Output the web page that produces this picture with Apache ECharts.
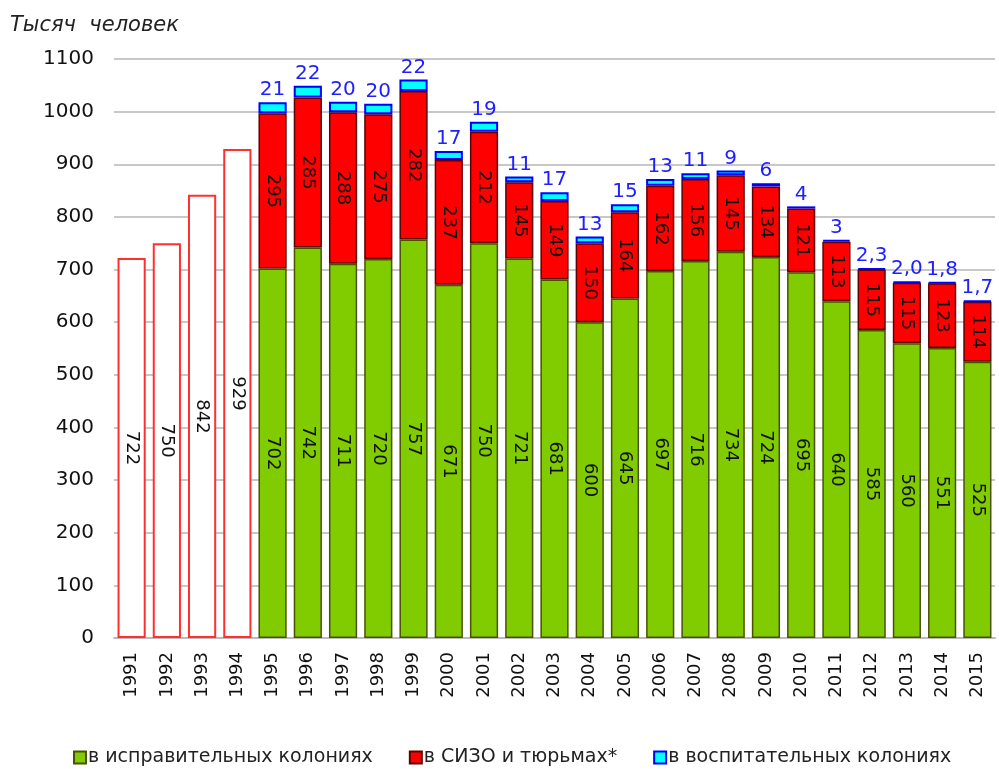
<!DOCTYPE html>
<html>
<head>
<meta charset="utf-8">
<script src="https://cdn.jsdelivr.net/npm/echarts@6/dist/echarts.min.js"></script>
<style>
  html, body { margin: 0; padding: 0; background: #fff; }
  #chart { width: 999px; height: 769px; }
</style>
</head>
<body>
<div id="chart"></div>
<script>
// годы
var years = ['1991','1992','1993','1994','1995','1996','1997','1998','1999','2000','2001','2002','2003',
  '2004','2005','2006','2007','2008','2009','2010','2011','2012','2013','2014','2015'];
// всего (только 1991-1994)
var totalEarly = [722, 750, 842, 929];
// в исправительных колониях
var colonies = [702, 742, 711, 720, 757, 671, 750, 721, 681, 600, 645, 697, 716, 734, 724, 695, 640, 585, 560, 551, 525];
// в СИЗО и тюрьмах
var sizo = [295, 285, 288, 275, 282, 237, 212, 145, 149, 150, 164, 162, 156, 145, 134, 121, 113, 115, 115, 123, 114];
// в воспитательных колониях
var juvenile = [21, 22, 20, 20, 22, 17, 19, 11, 17, 13, 15, 13, 11, 9, 6, 4, 3, 2.3, 2.0, 1.8, 1.7];
// подписи к воспитательным колониям (как на рисунке)
var juvenileText = ['21','22','20','20','22','17','19','11','17','13','15','13','11','9','6','4','3','2,3','2,0','1,8','1,7'];
var yTicks = [0, 100, 200, 300, 400, 500, 600, 700, 800, 900, 1000, 1100];

var pad = function (arr, n) { return new Array(n).fill('-').concat(arr); };
var early = totalEarly.concat(new Array(years.length - totalEarly.length).fill('-'));
var skip = years.length - juvenile.length;

var font = 'DejaVu Sans, Verdana, sans-serif';
var inLabel = {
  show: true, position: 'inside', rotate: -90,
  color: '#111', fontSize: 18, fontFamily: font
};

var chart = echarts.init(document.getElementById('chart'));
chart.setOption({
  animation: false,
  textStyle: { fontFamily: font },
  graphic: [{
    type: 'text', left: 10, top: 15,
    style: { text: 'Тысяч  человек', font: 'italic 21px DejaVu Sans, Verdana, sans-serif', fill: '#222' }
  }],
  grid: { left: 114, right: 4, top: 59, bottom: 131 },
  legend: {
    top: 743, left: 68, icon: 'rect',
    itemWidth: 12, itemHeight: 12, itemGap: 36,
    textStyle: { fontSize: 19, color: '#222', padding: [0, 0, 0, -3] },
    data: ['в исправительных колониях', 'в СИЗО и тюрьмах*', 'в воспитательных колониях']
  },
  xAxis: {
    type: 'category', data: years,
    axisTick: { show: false },
    axisLine: { lineStyle: { color: '#bbb', width: 2 } },
    axisLabel: { rotate: 90, fontSize: 18, color: '#111', margin: 14 }
  },
  yAxis: {
    type: 'value', min: yTicks[0], max: yTicks[yTicks.length - 1], interval: 100,
    axisLine: { show: false }, axisTick: { show: false },
    splitLine: { lineStyle: { color: '#c8c8c8', width: 2 } },
    axisLabel: { fontSize: 20, color: '#111', margin: 20, formatter: function (v) { return String(v); } }
  },
  series: [
    {
      name: 'всего', type: 'bar', stack: 's', data: early, barCategoryGap: '20%',
      itemStyle: { color: '#fff', borderColor: '#ff3030', borderWidth: 2 },
      label: inLabel
    },
    {
      name: 'в исправительных колониях', type: 'bar', stack: 's', data: pad(colonies, skip),
      itemStyle: { color: '#80cc00', borderColor: '#4a5200', borderWidth: 1.5 },
      label: inLabel
    },
    {
      name: 'в СИЗО и тюрьмах*', type: 'bar', stack: 's', data: pad(sizo, skip),
      itemStyle: { color: '#ff0000', borderColor: '#600000', borderWidth: 1.5 },
      label: inLabel
    },
    {
      name: 'в воспитательных колониях', type: 'bar', stack: 's', data: pad(juvenile, skip),
      itemStyle: { color: '#00ffff', borderColor: '#0000ff', borderWidth: 2 },
      label: {
        show: true, position: 'top', distance: 2,
        color: '#2020ff', fontSize: 20,
        formatter: function (p) { return juvenileText[p.dataIndex - skip]; }
      }
    }
  ]
});
</script>
</body>
</html>
